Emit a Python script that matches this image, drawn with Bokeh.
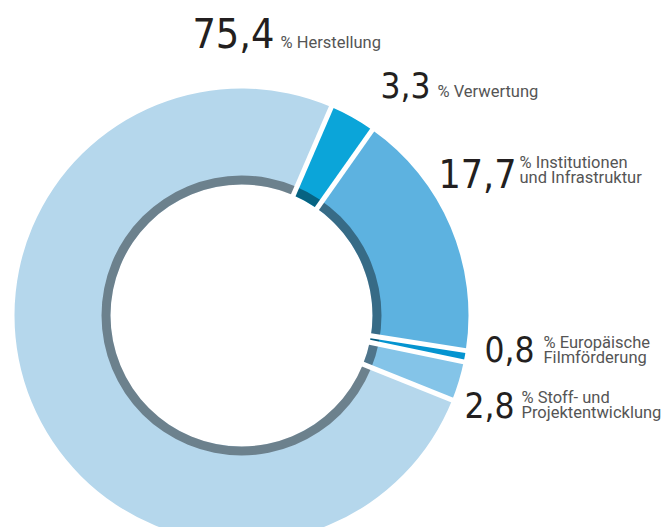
import numpy as np
from bokeh.plotting import figure
from bokeh.models import Range1d, ColumnDataSource
from bokeh.core.properties import value
from bokeh.embed import file_html
from bokeh.resources import INLINE

# ---- data (clockwise from the top, starting with "Verwertung") ----
categories = ["Verwertung", "Institutionen und Infrastruktur", "Europäische Filmförderung",
              "Stoff- und Projektentwicklung", "Herstellung"]
shares = [3.3, 17.7, 0.8, 2.8, 75.4]
number_labels = ["3,3", "17,7", "0,8", "2,8", "75,4"]
desc_line1 = ["% Verwertung", "% Institutionen", "% Europäische", "% Stoff- und", "% Herstellung"]
desc_line2 = ["", "und Infrastruktur", "Filmförderung", "Projektentwicklung", ""]
colors = ["#0BA5D9", "#5DB2E0", "#0494D0", "#84C4E8", "#B5D7EC"]

# ---- layout (screen-pixel coordinates, y grows downward) ----
CX, CY = 241, 315
R_OUT, R_IN, RING_W = 227, 131, 9
START_DEG = 66.7
num_right = [(430, 98), (516, 188), (534, 362), (514, 418), (274, 48)]  # right edge, baseline
num_size = [35, 39, 35, 35, 41]
desc_pos = [(437, 97), (519, 168), (543, 348), (521, 403), (280, 48)]
DESC_SIZE = 16.5
LINE_GAP = 15.5
K_BASE = 0.38  # correction of the renderer's baseline placement

W, H = 670, 527
p = figure(width=W, height=H, output_backend="svg", toolbar_location=None,
           x_range=Range1d(0, W), y_range=Range1d(-H, 0),
           min_border=0, outline_line_color=None, background_fill_color="white",
           border_fill_color="white")
p.axis.visible = False
p.grid.visible = False

vals = np.array(shares, dtype=float)
fr = vals / vals.sum()
cum = np.concatenate([[0.0], np.cumsum(fr)])
start = np.deg2rad(START_DEG) - 2 * np.pi * cum[:-1]
end = np.deg2rad(START_DEG) - 2 * np.pi * cum[1:]

src = ColumnDataSource(dict(start=start, end=end, color=colors, cat=categories))
p.annular_wedge(x=CX, y=-CY, inner_radius=R_IN, outer_radius=R_OUT,
                start_angle="start", end_angle="end", direction="clock",
                fill_color="color", line_color=None, source=src)
# darker inner ring
p.annulus(x=CX, y=-CY, inner_radius=R_IN, outer_radius=R_IN + RING_W,
          fill_color="black", fill_alpha=0.4, line_color=None)
# white separators
bang = start
p.segment(x0=CX + (R_IN - 5) * np.cos(bang), y0=-CY + (R_IN - 5) * np.sin(bang),
          x1=CX + (R_OUT + 5) * np.cos(bang), y1=-CY + (R_OUT + 5) * np.sin(bang),
          line_color="white", line_width=5)

big_font = value("DejaVu Sans Condensed")
small_font = value("Roboto")
for i in range(len(categories)):
    nx, ny = num_right[i]
    fs = num_size[i]
    p.text(x=[nx], y=[-(ny - K_BASE * fs)], text=[number_labels[i]], text_font=big_font,
           text_font_size=value(f"{fs}px"), text_color="#231F20",
           text_baseline="alphabetic", text_align="right")
    dx, dy = desc_pos[i]
    lines = [desc_line1[i]] + ([desc_line2[i]] if desc_line2[i] else [])
    for k, line in enumerate(lines):
        p.text(x=[dx], y=[-(dy + k * LINE_GAP - K_BASE * DESC_SIZE)], text=[line],
               text_font=small_font, text_font_size=value(f"{DESC_SIZE}px"),
               text_color="#555555", text_baseline="alphabetic", text_align="left")

open("out.html", "w").write(file_html(p, INLINE))
